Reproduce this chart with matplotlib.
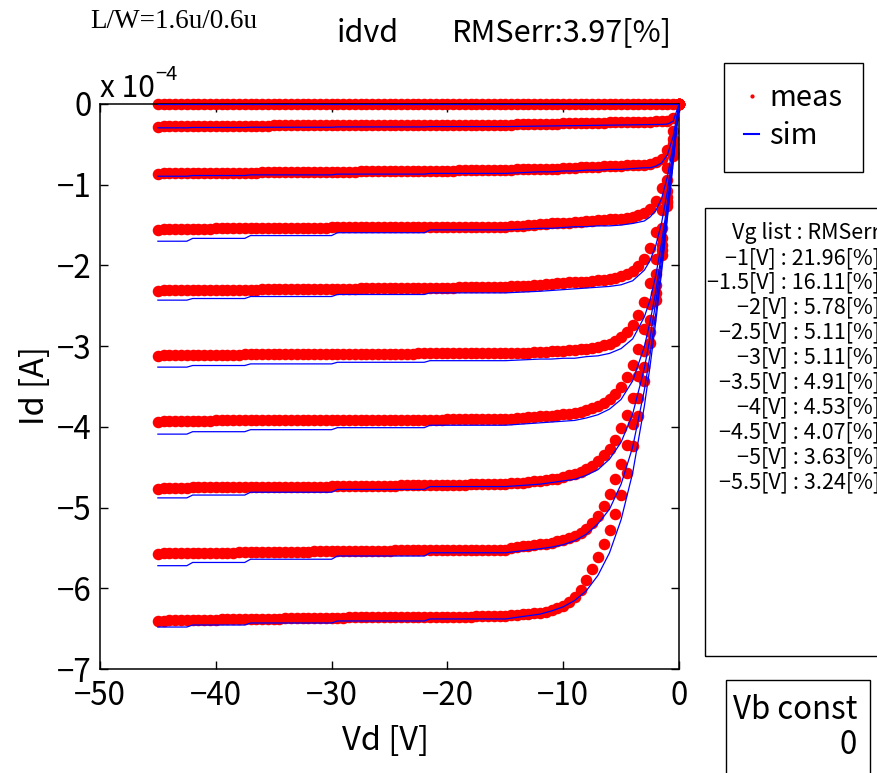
import matplotlib as mpl
mpl.rcParams['xtick.direction'] = 'in'
mpl.rcParams['ytick.direction'] = 'in'
mpl.rcParams['xtick.top'] = True
mpl.rcParams['ytick.right'] = True

import matplotlib.pyplot as plt
from matplotlib.lines import Line2D
from matplotlib.patches import Rectangle

plt.rcParams['font.family'] = ['Noto Sans CJK JP', 'DejaVu Sans']

### data (Id in units of 1e-4 A)
vg_list = [-1, -1.5, -2, -2.5, -3, -3.5, -4, -4.5, -5, -5.5]
rms_list = [21.96, 16.11, 5.78, 5.11, 5.11, 4.91, 4.53, 4.07, 3.63, 3.24]

vd_meas = [-45.0, -44.5, -44.0, -43.5, -43.0, -42.5, -42.0, -41.5, -41.0, -40.5,
           -40.0, -39.5, -39.0, -38.5, -38.0, -37.5, -37.0, -36.5, -36.0, -35.5,
           -35.0, -34.5, -34.0, -33.5, -33.0, -32.5, -32.0, -31.5, -31.0, -30.5,
           -30.0, -29.5, -29.0, -28.5, -28.0, -27.5, -27.0, -26.5, -26.0, -25.5,
           -25.0, -24.5, -24.0, -23.5, -23.0, -22.5, -22.0, -21.5, -21.0, -20.5,
           -20.0, -19.5, -19.0, -18.5, -18.0, -17.5, -17.0, -16.5, -16.0, -15.5,
           -15.0, -14.5, -14.0, -13.5, -13.0, -12.5, -12.0, -11.5, -11.0, -10.5,
           -10.0, -9.5, -9.0, -8.5, -8.0, -7.5, -7.0, -6.5, -6.0, -5.5,
           -5.0, -4.5, -4.0, -3.5, -3.0, -2.5, -2.0, -1.5, -1.0, -0.5,
           0.0]

id_meas_vg1 = [-0.003, -0.003, -0.003, -0.003, -0.003, -0.003, -0.003, -0.003, -0.003, -0.003,
               -0.003, -0.003, -0.003, -0.003, -0.003, -0.003, -0.003, -0.003, -0.003, -0.003,
               -0.003, -0.003, -0.003, -0.003, -0.003, -0.003, -0.003, -0.003, -0.003, -0.003,
               -0.003, -0.003, -0.003, -0.003, -0.003, -0.003, -0.003, -0.003, -0.003, -0.003,
               -0.003, -0.003, -0.003, -0.003, -0.003, -0.003, -0.003, -0.003, -0.003, -0.003,
               -0.003, -0.003, -0.003, -0.003, -0.003, -0.003, -0.003, -0.003, -0.003, -0.003,
               -0.003, -0.003, -0.003, -0.003, -0.003, -0.003, -0.003, -0.003, -0.003, -0.003,
               -0.003, -0.003, -0.003, -0.003, -0.003, -0.003, -0.003, -0.003, -0.003, -0.003,
               -0.003, -0.003, -0.003, -0.003, -0.003, -0.003, -0.003, -0.003, -0.003, -0.003,
               0.0]
id_meas_vg1p5 = [-0.28, -0.27, -0.27, -0.27, -0.27, -0.27, -0.27, -0.27, -0.27, -0.27,
                 -0.27, -0.27, -0.27, -0.27, -0.27, -0.27, -0.27, -0.27, -0.27, -0.27,
                 -0.26, -0.26, -0.26, -0.26, -0.26, -0.26, -0.26, -0.26, -0.26, -0.26,
                 -0.26, -0.26, -0.26, -0.26, -0.26, -0.26, -0.26, -0.26, -0.26, -0.26,
                 -0.26, -0.26, -0.26, -0.26, -0.26, -0.26, -0.26, -0.26, -0.26, -0.26,
                 -0.26, -0.26, -0.26, -0.26, -0.26, -0.26, -0.26, -0.26, -0.26, -0.26,
                 -0.26, -0.254, -0.252, -0.251, -0.249, -0.248, -0.246, -0.245, -0.243, -0.242,
                 -0.240, -0.239, -0.237, -0.236, -0.234, -0.233, -0.231, -0.230, -0.228, -0.227,
                 -0.225, -0.224, -0.222, -0.221, -0.219, -0.218, -0.216, -0.214, -0.208, -0.170,
                 0.0]
id_meas_vg2 = [-0.87, -0.85, -0.85, -0.85, -0.85, -0.85, -0.85, -0.85, -0.85, -0.85,
               -0.85, -0.85, -0.85, -0.85, -0.85, -0.85, -0.85, -0.85, -0.84, -0.84,
               -0.84, -0.84, -0.84, -0.84, -0.84, -0.84, -0.84, -0.84, -0.84, -0.84,
               -0.84, -0.84, -0.84, -0.84, -0.84, -0.83, -0.83, -0.83, -0.83, -0.83,
               -0.83, -0.83, -0.83, -0.83, -0.83, -0.83, -0.83, -0.83, -0.83, -0.83,
               -0.83, -0.83, -0.82, -0.82, -0.82, -0.82, -0.82, -0.82, -0.82, -0.82,
               -0.82, -0.82, -0.81, -0.81, -0.81, -0.81, -0.80, -0.80, -0.80, -0.80,
               -0.79, -0.79, -0.79, -0.78, -0.78, -0.78, -0.78, -0.77, -0.77, -0.77,
               -0.77, -0.76, -0.76, -0.76, -0.75, -0.74, -0.72, -0.68, -0.57, -0.34,
               0.0]
id_meas_vg2p5 = [-1.56, -1.55, -1.55, -1.55, -1.55, -1.55, -1.55, -1.55, -1.55, -1.55,
                 -1.54, -1.54, -1.54, -1.54, -1.54, -1.54, -1.54, -1.54, -1.54, -1.54,
                 -1.54, -1.54, -1.54, -1.54, -1.54, -1.54, -1.54, -1.54, -1.54, -1.54,
                 -1.53, -1.53, -1.53, -1.53, -1.53, -1.53, -1.53, -1.53, -1.53, -1.53,
                 -1.53, -1.53, -1.53, -1.53, -1.53, -1.53, -1.53, -1.53, -1.53, -1.53,
                 -1.52, -1.52, -1.52, -1.52, -1.52, -1.52, -1.52, -1.52, -1.52, -1.52,
                 -1.52, -1.51, -1.51, -1.51, -1.50, -1.50, -1.49, -1.49, -1.48, -1.48,
                 -1.47, -1.47, -1.46, -1.46, -1.45, -1.45, -1.44, -1.44, -1.43, -1.43,
                 -1.42, -1.41, -1.40, -1.38, -1.35, -1.30, -1.20, -1.04, -0.79, -0.43,
                 0.0]
id_meas_vg3 = [-2.32, -2.30, -2.30, -2.30, -2.30, -2.30, -2.30, -2.30, -2.30, -2.30,
               -2.30, -2.30, -2.30, -2.30, -2.30, -2.30, -2.30, -2.30, -2.29, -2.29,
               -2.29, -2.29, -2.29, -2.29, -2.29, -2.29, -2.29, -2.29, -2.29, -2.29,
               -2.29, -2.29, -2.29, -2.29, -2.29, -2.28, -2.28, -2.28, -2.28, -2.28,
               -2.28, -2.28, -2.28, -2.28, -2.28, -2.28, -2.28, -2.28, -2.28, -2.28,
               -2.28, -2.28, -2.27, -2.27, -2.27, -2.27, -2.27, -2.27, -2.27, -2.27,
               -2.27, -2.26, -2.26, -2.25, -2.25, -2.24, -2.24, -2.23, -2.23, -2.22,
               -2.22, -2.21, -2.21, -2.20, -2.20, -2.19, -2.18, -2.18, -2.17, -2.15,
               -2.13, -2.11, -2.07, -2.01, -1.92, -1.78, -1.59, -1.31, -0.94, -0.50,
               0.0]
id_meas_vg3p5 = [-3.12, -3.11, -3.11, -3.11, -3.11, -3.11, -3.11, -3.11, -3.11, -3.11,
                 -3.11, -3.11, -3.11, -3.11, -3.11, -3.10, -3.10, -3.10, -3.10, -3.10,
                 -3.10, -3.10, -3.10, -3.10, -3.10, -3.10, -3.10, -3.10, -3.10, -3.10,
                 -3.10, -3.10, -3.10, -3.10, -3.10, -3.10, -3.10, -3.10, -3.10, -3.10,
                 -3.10, -3.10, -3.10, -3.10, -3.10, -3.09, -3.09, -3.09, -3.09, -3.09,
                 -3.09, -3.09, -3.09, -3.09, -3.09, -3.09, -3.09, -3.09, -3.09, -3.09,
                 -3.09, -3.09, -3.08, -3.08, -3.08, -3.07, -3.07, -3.07, -3.06, -3.06,
                 -3.06, -3.05, -3.05, -3.04, -3.03, -3.02, -3.01, -2.99, -2.97, -2.94,
                 -2.89, -2.83, -2.74, -2.62, -2.45, -2.22, -1.92, -1.54, -1.08, -0.56,
                 0.0]
id_meas_vg4 = [-3.94, -3.93, -3.93, -3.93, -3.93, -3.93, -3.93, -3.93, -3.93, -3.93,
               -3.92, -3.92, -3.92, -3.92, -3.92, -3.92, -3.92, -3.92, -3.92, -3.92,
               -3.92, -3.92, -3.92, -3.92, -3.92, -3.92, -3.92, -3.92, -3.92, -3.92,
               -3.91, -3.91, -3.91, -3.91, -3.91, -3.91, -3.91, -3.91, -3.91, -3.91,
               -3.91, -3.91, -3.91, -3.91, -3.91, -3.91, -3.91, -3.91, -3.91, -3.91,
               -3.90, -3.90, -3.90, -3.90, -3.90, -3.90, -3.90, -3.90, -3.90, -3.90,
               -3.90, -3.90, -3.89, -3.89, -3.88, -3.88, -3.87, -3.86, -3.86, -3.85,
               -3.84, -3.84, -3.83, -3.81, -3.79, -3.77, -3.74, -3.70, -3.65, -3.59,
               -3.50, -3.38, -3.23, -3.04, -2.79, -2.48, -2.11, -1.66, -1.15, -0.59,
               0.0]
id_meas_vg4p5 = [-4.77, -4.76, -4.76, -4.76, -4.76, -4.76, -4.75, -4.75, -4.75, -4.75,
                 -4.75, -4.75, -4.75, -4.75, -4.75, -4.75, -4.75, -4.75, -4.74, -4.74,
                 -4.74, -4.74, -4.74, -4.74, -4.74, -4.74, -4.74, -4.74, -4.74, -4.74,
                 -4.73, -4.73, -4.73, -4.73, -4.73, -4.73, -4.73, -4.73, -4.73, -4.73,
                 -4.73, -4.73, -4.72, -4.72, -4.72, -4.72, -4.72, -4.72, -4.72, -4.72,
                 -4.72, -4.72, -4.72, -4.72, -4.71, -4.71, -4.71, -4.71, -4.71, -4.71,
                 -4.71, -4.70, -4.70, -4.69, -4.68, -4.67, -4.67, -4.66, -4.65, -4.64,
                 -4.62, -4.60, -4.58, -4.56, -4.52, -4.48, -4.42, -4.35, -4.27, -4.16,
                 -4.02, -3.85, -3.64, -3.37, -3.06, -2.68, -2.24, -1.75, -1.20, -0.61,
                 0.0]
id_meas_vg5 = [-5.58, -5.56, -5.56, -5.56, -5.56, -5.56, -5.56, -5.56, -5.56, -5.56,
               -5.56, -5.56, -5.56, -5.56, -5.55, -5.55, -5.55, -5.55, -5.55, -5.55,
               -5.55, -5.55, -5.55, -5.55, -5.55, -5.55, -5.55, -5.54, -5.54, -5.54,
               -5.54, -5.54, -5.54, -5.54, -5.54, -5.54, -5.54, -5.54, -5.54, -5.54,
               -5.54, -5.53, -5.53, -5.53, -5.53, -5.53, -5.53, -5.53, -5.53, -5.53,
               -5.53, -5.53, -5.53, -5.53, -5.52, -5.52, -5.52, -5.52, -5.52, -5.52,
               -5.52, -5.50, -5.49, -5.48, -5.47, -5.46, -5.45, -5.45, -5.44, -5.42,
               -5.40, -5.38, -5.35, -5.31, -5.26, -5.19, -5.10, -4.98, -4.83, -4.65,
               -4.46, -4.23, -3.96, -3.64, -3.26, -2.83, -2.34, -1.81, -1.23, -0.62,
               0.0]
id_meas_vg5p5 = [-6.41, -6.40, -6.39, -6.39, -6.39, -6.39, -6.39, -6.39, -6.39, -6.39,
                 -6.39, -6.38, -6.38, -6.38, -6.38, -6.38, -6.38, -6.38, -6.38, -6.38,
                 -6.38, -6.38, -6.37, -6.37, -6.37, -6.37, -6.37, -6.37, -6.37, -6.37,
                 -6.37, -6.37, -6.37, -6.36, -6.36, -6.36, -6.36, -6.36, -6.36, -6.36,
                 -6.36, -6.36, -6.36, -6.36, -6.35, -6.35, -6.35, -6.35, -6.35, -6.35,
                 -6.35, -6.35, -6.35, -6.35, -6.35, -6.34, -6.34, -6.34, -6.34, -6.34,
                 -6.34, -6.33, -6.33, -6.32, -6.32, -6.31, -6.30, -6.29, -6.27, -6.25,
                 -6.22, -6.17, -6.11, -6.02, -5.90, -5.76, -5.61, -5.45, -5.28, -5.08,
                 -4.85, -4.57, -4.24, -3.86, -3.43, -2.96, -2.43, -1.87, -1.26, -0.64,
                 0.0]

vd_sim = [-45, -42.5, -42, -37.5, -37, -30, -29.5, -22, -21.5, -15,
          -12, -11, -10, -9, -8, -7, -6, -5, -4, -3, -2.5, -2, -1.5, -1, -0.5, 0]

id_sim_vg1 = [0, 0, 0, 0, 0, 0, 0, 0, 0, 0,
              0, 0, 0, 0, 0, 0, 0, 0, 0, 0, 0, 0, 0, 0, 0, 0]
id_sim_vg1p5 = [-0.295, -0.295, -0.291, -0.291, -0.288, -0.288, -0.284, -0.284, -0.28, -0.28,
                -0.274, -0.272, -0.27, -0.268, -0.266, -0.264, -0.262, -0.26, -0.258, -0.256,
                -0.255, -0.254, -0.253, -0.249, -0.213, 0]
id_sim_vg2 = [-0.895, -0.895, -0.886, -0.886, -0.878, -0.878, -0.869, -0.869, -0.86, -0.86,
              -0.84, -0.84, -0.83, -0.83, -0.82, -0.82, -0.81, -0.81, -0.80, -0.79,
              -0.79, -0.77, -0.73, -0.63, -0.40, 0]
id_sim_vg2p5 = [-1.70, -1.70, -1.665, -1.665, -1.63, -1.63, -1.595, -1.595, -1.56, -1.56,
                -1.54, -1.54, -1.53, -1.52, -1.52, -1.51, -1.51, -1.50, -1.48, -1.45,
                -1.40, -1.32, -1.17, -0.90, -0.51, 0]
id_sim_vg3 = [-2.43, -2.43, -2.41, -2.41, -2.385, -2.385, -2.36, -2.36, -2.34, -2.34,
              -2.32, -2.31, -2.30, -2.29, -2.28, -2.27, -2.26, -2.24, -2.19, -2.06,
              -1.94, -1.75, -1.47, -1.08, -0.57, 0]
id_sim_vg3p5 = [-3.26, -3.26, -3.24, -3.24, -3.22, -3.22, -3.20, -3.20, -3.18, -3.18,
                -3.16, -3.16, -3.15, -3.15, -3.13, -3.12, -3.09, -3.03, -2.91, -2.64,
                -2.43, -2.12, -1.72, -1.22, -0.64, 0]
id_sim_vg4 = [-4.09, -4.09, -4.06, -4.06, -4.035, -4.035, -4.01, -4.01, -3.98, -3.98,
              -3.95, -3.94, -3.93, -3.92, -3.89, -3.85, -3.78, -3.66, -3.43, -3.01,
              -2.70, -2.32, -1.84, -1.28, -0.66, 0]
id_sim_vg4p5 = [-4.88, -4.88, -4.845, -4.845, -4.81, -4.81, -4.775, -4.775, -4.74, -4.74,
                -4.71, -4.69, -4.67, -4.65, -4.60, -4.53, -4.40, -4.19, -3.84, -3.28,
                -2.90, -2.45, -1.92, -1.32, -0.67, 0]
id_sim_vg5 = [-5.72, -5.72, -5.68, -5.68, -5.64, -5.64, -5.60, -5.60, -5.56, -5.56,
              -5.51, -5.49, -5.46, -5.41, -5.33, -5.20, -5.02, -4.71, -4.25, -3.55,
              -3.11, -2.59, -2.02, -1.38, -0.70, 0]
id_sim_vg5p5 = [-6.48, -6.48, -6.455, -6.455, -6.43, -6.43, -6.405, -6.405, -6.38, -6.38,
                -6.32, -6.28, -6.23, -6.15, -6.03, -5.84, -5.56, -5.15, -4.57, -3.75,
                -3.25, -2.69, -2.08, -1.41, -0.72, 0]

id_meas = [id_meas_vg1, id_meas_vg1p5, id_meas_vg2, id_meas_vg2p5, id_meas_vg3,
           id_meas_vg3p5, id_meas_vg4, id_meas_vg4p5, id_meas_vg5, id_meas_vg5p5]
id_sim = [id_sim_vg1, id_sim_vg1p5, id_sim_vg2, id_sim_vg2p5, id_sim_vg3,
          id_sim_vg3p5, id_sim_vg4, id_sim_vg4p5, id_sim_vg5, id_sim_vg5p5]

W, H = 877, 773

def fx(px):
    return px / W

def fy(py):
    return 1 - py / H

fig = plt.figure(figsize=(W / 100, H / 100), dpi=100)
ax = fig.add_axes([fx(100), fy(669), 579 / W, 565 / H])

# measured points first, simulated lines on top
for idm in id_meas:
    ax.plot(vd_meas, idm, ls='none', marker='o', ms=7.3, color='#ff0000', mec='#ff0000',
            clip_on=False, zorder=2)
for ids in id_sim:
    ax.plot(vd_sim, ids, '-', color='#0000ff', lw=0.9, zorder=3)

ax.set_xlim(-50, 0)
ax.set_ylim(-7, 0)
ax.set_xticks(range(-50, 1, 10))
ax.set_yticks(range(-7, 1))
ax.tick_params(axis='both', labelsize=22.5, length=6, width=1)
ax.tick_params(axis='x', pad=8)
ax.tick_params(axis='y', pad=6)
for sp in ax.spines.values():
    sp.set_linewidth(1.1)

# axis labels, multiplier and titles
fig.text(fx(386), fy(741), 'Vd [V]', fontsize=23.5, ha='center', va='center')
fig.text(fx(35), fy(386), 'Id [A]', fontsize=23.5, ha='center', va='center', rotation=90)
fig.text(fx(100), fy(97), 'x 10', fontsize=21.5, ha='left', va='baseline')
fig.text(fx(155), fy(80), '\u22124', fontsize=14.5, ha='left', va='baseline')
fig.text(fx(337), fy(33), 'idvd', fontsize=22, ha='left', va='center')
fig.text(fx(452), fy(33), 'RMSerr:3.97[%]', fontsize=22, ha='left', va='center')
fig.text(fx(90), fy(21), 'L/W=1.6u/0.6u', fontsize=19.5, family='Liberation Serif',
         ha='left', va='center')

# legend
h_meas = Line2D([], [], ls='none', marker='.', ms=4, color='#ff0000')
h_sim = Line2D([], [], ls='-', lw=1.5, color='#0000ff')
leg = fig.legend([h_meas, h_sim], ['meas', 'sim'], loc='upper left',
                 bbox_to_anchor=(fx(724), fy(63)), fontsize=21, frameon=True,
                 fancybox=False, edgecolor='black', framealpha=1, borderpad=0.7,
                 handlelength=0.5, handletextpad=0.35, labelspacing=0.27, borderaxespad=0)
leg.get_frame().set_linewidth(1)

# Vg list box
fig.patches.append(Rectangle((fx(705), fy(656)), 200 / W, 448 / H, transform=fig.transFigure,
                             fill=False, edgecolor='black', lw=1))
lines = ['Vg list : RMSerr'] + ['%s[V] : %.2f[%%]' % (('%g' % v).replace('-', '\u2212'), r)
                                for v, r in zip(vg_list, rms_list)]
for i, t in enumerate(lines):
    fig.text(fx(880), fy(233 + 24.9 * i), t, fontsize=15.5, ha='right', va='center')

# Vb const box
fig.patches.append(Rectangle((fx(726), fy(800)), 144 / W, 120 / H, transform=fig.transFigure,
                             fill=False, edgecolor='black', lw=1))
fig.text(fx(733), fy(710), 'Vb const', fontsize=22.5, ha='left', va='center')
fig.text(fx(857), fy(745), '0', fontsize=22.5, ha='right', va='center')

plt.savefig('out.png', dpi=100)
plt.close()
